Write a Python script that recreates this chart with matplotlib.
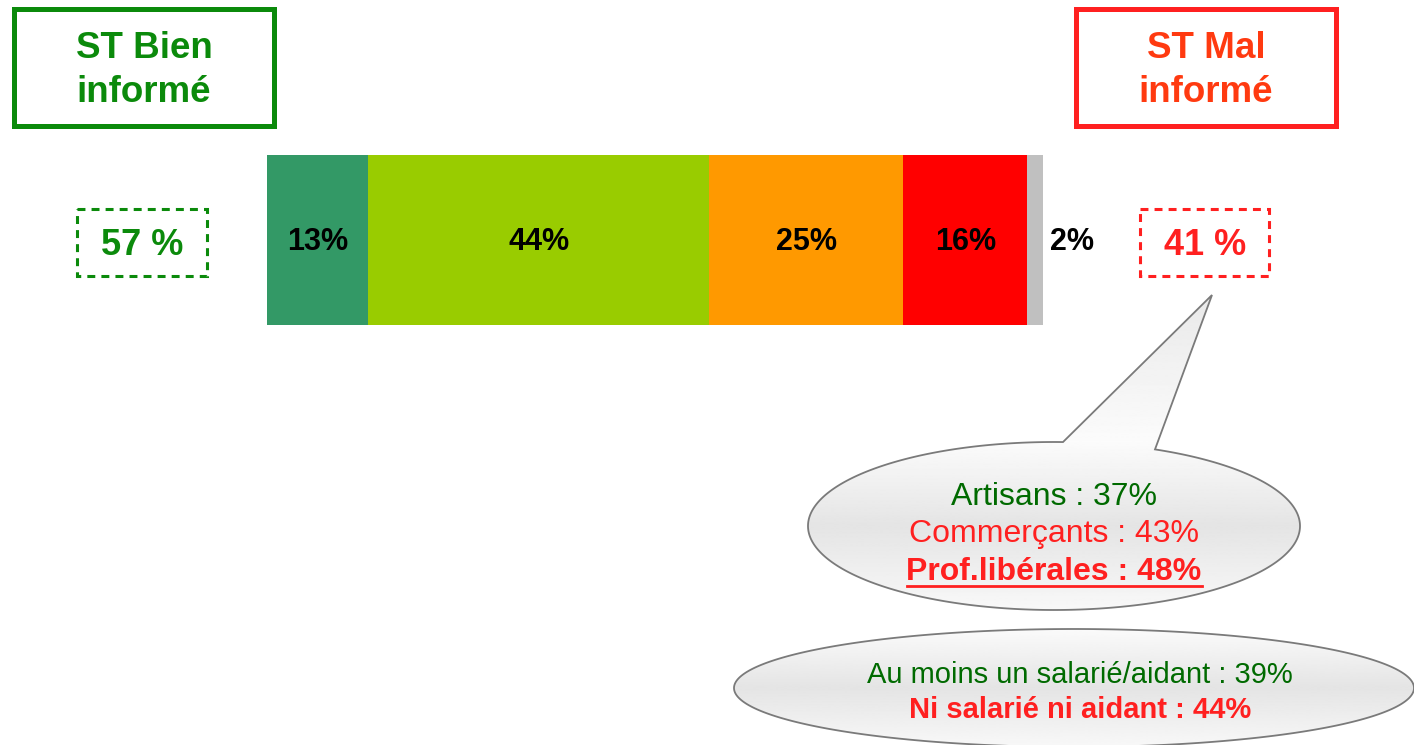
import numpy as np
import matplotlib
matplotlib.use('Agg')
import matplotlib.pyplot as plt
from matplotlib.patches import Rectangle, Polygon

plt.rcParams['font.family'] = ['Liberation Sans', 'DejaVu Sans']

# data
segments = ['Très bien', 'Plutôt bien', 'Plutôt mal', 'Très mal', 'NSP']
values = [13, 44, 25, 16, 2]
seg_colors = ['#339966', '#99cc00', '#ff9900', '#ff0000', '#c0c0c0']
total_bien = 57
total_mal = 41
bubble1_lines = ['Artisans : 37%', 'Commerçants : 43%', 'Prof.libérales : 48%']
bubble2_lines = ['Au moins un salarié/aidant : 39%', 'Ni salarié ni aidant : 44%']

GREEN = '#0b8a0b'
DKGREEN = '#006a00'
RED = '#ff2020'
EDGE = '#7a7a7a'

W, H = 1414, 745
fig = plt.figure(figsize=(W / 100, H / 100), dpi=100)

# overlay axes in pixel coordinates for boxes and bubbles
ov = fig.add_axes([0, 0, 1, 1])
ov.set_xlim(0, W)
ov.set_ylim(H, 0)
ov.axis('off')

# stacked bar
ax = fig.add_axes([267 / W, (H - 325) / H, 776 / W, 170 / H])
left = np.concatenate([[0], np.cumsum(values)[:-1]])
ax.barh([0] * len(values), values, left=left, color=seg_colors, height=1.0)
ax.set_xlim(0, sum(values))
ax.set_ylim(-0.5, 0.5)
ax.axis('off')
for l, v in zip(left, values):
    if v >= 5:
        ax.text(l + v / 2, -0.06, f'{v}%', ha='center', va='baseline',
                fontsize=22, fontweight='bold', color='black')
    else:
        ax.annotate(f'{v}%', xy=(l + v, -0.06), xytext=(21, 0), textcoords='offset points',
                    ha='center', va='baseline', fontsize=22, fontweight='bold',
                    color='black', annotation_clip=False)

# header boxes
ov.add_patch(Rectangle((14, 9), 260, 117, fill=False, ec=GREEN, lw=3.6))
ov.text(144, 58, 'ST Bien', ha='center', va='baseline', fontsize=26.5,
        fontweight='bold', color=GREEN)
ov.text(144, 102, 'informé', ha='center', va='baseline', fontsize=26.5,
        fontweight='bold', color=GREEN)
ov.add_patch(Rectangle((1076, 9), 260, 117, fill=False, ec=RED, lw=3.6))
ov.text(1206, 58, 'ST Mal', ha='center', va='baseline', fontsize=26.5,
        fontweight='bold', color='#ff3a10')
ov.text(1206, 102, 'informé', ha='center', va='baseline', fontsize=26.5,
        fontweight='bold', color='#ff3a10')

# dashed total boxes
dash = (0, (2.6, 2.0))
ov.add_patch(Rectangle((77, 209), 130, 67, fill=False, ec=GREEN, lw=2.2, ls=dash))
ov.text(142, 255, f'{total_bien} %', ha='center', va='baseline', fontsize=26,
        fontweight='bold', color=GREEN)
ov.add_patch(Rectangle((1140, 209), 129, 67, fill=False, ec=RED, lw=2.2, ls=dash))
ov.text(1205, 255, f'{total_mal} %', ha='center', va='baseline', fontsize=26,
        fontweight='bold', color=RED)


def bubble_outline(cx, cy, bw, bh, tail=None):
    ''' ellipse outline as a polygon, with an optional pointer inserted '''
    if tail is None:
        t = np.linspace(0, 2 * np.pi, 400)
        return np.column_stack([cx + bw / 2 * np.cos(t), cy + bh / 2 * np.sin(t)])
    base_l, tip, base_r = tail
    a_l = np.arctan2((base_l[1] - cy) / (bh / 2), (base_l[0] - cx) / (bw / 2))
    a_r = np.arctan2((base_r[1] - cy) / (bh / 2), (base_r[0] - cx) / (bw / 2))
    t = np.linspace(a_r, a_l + 2 * np.pi, 400)
    pts = np.column_stack([cx + bw / 2 * np.cos(t), cy + bh / 2 * np.sin(t)])
    return np.vstack([pts, [tip]])


def gradient_bubble(pts, ys, levels):
    ''' fill a closed outline with a vertical grey gradient and draw its edge '''
    patch = Polygon(pts, closed=True, fc='none', ec=EDGE, lw=1.3, zorder=3,
                    joinstyle='miter')
    ov.add_patch(patch)
    y = np.linspace(ys[0], ys[-1], 300)
    g = np.interp(y, ys, levels)
    img = np.tile(g[:, None], (1, 2))
    im = ov.imshow(img, extent=[0, W, ys[-1], ys[0]], cmap='gray', vmin=0, vmax=1,
                   aspect='auto', zorder=2, interpolation='bilinear')
    im.set_clip_path(patch)


# bubble 1 with pointer towards the 41 % box
b1 = bubble_outline(1054, 526, 492, 168, tail=[(1063, 442), (1212, 295), (1155, 449.4)])
gradient_bubble(b1, [290, 442, 526, 612], [0.91, 0.985, 0.895, 0.975])

ov.text(1054, 505, bubble1_lines[0], ha='center', va='baseline', fontsize=23,
        color=DKGREEN, zorder=6)
ov.text(1054, 542, bubble1_lines[1], ha='center', va='baseline', fontsize=23,
        color=RED, zorder=6)
ov.text(1054, 580, bubble1_lines[2], ha='center', va='baseline', fontsize=23,
        fontweight='bold', color=RED, zorder=6)
ov.plot([907, 1202], [585.5, 585.5], color=RED, lw=2.0, zorder=6)

# bubble 2
b2 = bubble_outline(1074, 688, 680, 118)
gradient_bubble(b2, [627, 688, 749], [0.985, 0.895, 0.975])
ov.text(1080, 683, bubble2_lines[0], ha='center', va='baseline', fontsize=21,
        color=DKGREEN, zorder=6)
ov.text(1080, 718, bubble2_lines[1], ha='center', va='baseline', fontsize=21,
        fontweight='bold', color=RED, zorder=6)

fig.savefig('out.png', dpi=100)
